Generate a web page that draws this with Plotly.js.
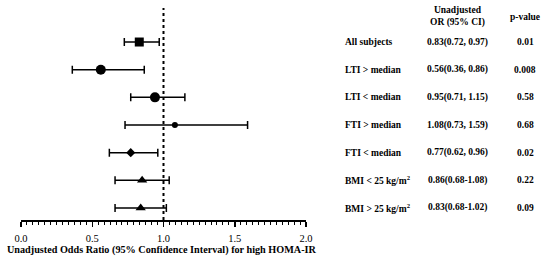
<!DOCTYPE html>
<html><head><meta charset="utf-8">
<script src="https://cdn.plot.ly/plotly-3.0.1.min.js"></script>
<style>html,body{margin:0;padding:0;background:#fff}</style>
</head><body><div id="chart" style="width:550px;height:261px"></div>
<script>
const labels = ["All subjects","LTI > median","LTI < median","FTI > median","FTI < median","BMI < 25 kg/m<sup>2</sup>","BMI > 25 kg/m<sup>2</sup>"];
const orPoint = [0.83,0.56,0.94,1.08,0.77,0.85,0.84];
const ciLow  = [0.725,0.36,0.77,0.73,0.62,0.66,0.66];
const ciHigh = [0.97,0.865,1.15,1.59,0.96,1.04,1.02];
const orText = ["0.83(0.72, 0.97)","0.56(0.36, 0.86)","0.95(0.71, 1.15)","1.08(0.73, 1.59)","0.77(0.62, 0.96)","0.86(0.68-1.08)","0.83(0.68-1.02)"];
const pText = ["0.01","0.008","0.58","0.68","0.02","0.22","0.09"];
const symbols = ["square","circle","circle","circle","diamond","triangle-up","triangle-up"];
const sizes = [9,10,10,6,7,9,9];

const rowY = labels.map((_, i) => labels.length - i);
const F = "Liberation Serif, Times New Roman, serif";

const trace = {
  type: "scatter", mode: "markers",
  x: orPoint, y: rowY,
  marker: {color: "#000", symbol: symbols, size: sizes, opacity: 1, line: {width: 0}},
  error_x: {type: "data", symmetric: false,
    array: orPoint.map((v,i)=>ciHigh[i]-v),
    arrayminus: orPoint.map((v,i)=>v-ciLow[i]),
    color: "#000", thickness: 1.5, width: 4},
  cliponaxis: false, hoverinfo: "none"
};

const L = 21, R = 244;
const px2paper = p => (p - L) / (550 - L - R);
const ann = [];
labels.forEach((t,i)=>{
  ann.push({xref:"paper", yref:"y", x:px2paper(343), y:rowY[i], xanchor:"left", yanchor:"middle", text:"<b>"+t+"</b>", showarrow:false, font:{family:F,size:9.5,color:"#000"}});
  ann.push({xref:"paper", yref:"y", x:px2paper(457), y:rowY[i], xanchor:"center", yanchor:"middle", text:"<b>"+orText[i]+"</b>", showarrow:false, font:{family:F,size:9.5,color:"#000"}});
  ann.push({xref:"paper", yref:"y", x:px2paper(525), y:rowY[i], xanchor:"center", yanchor:"middle", text:"<b>"+pText[i]+"</b>", showarrow:false, font:{family:F,size:9.5,color:"#000"}});
});
ann.push({xref:"paper", yref:"y", x:px2paper(457), y:7.92, xanchor:"center", yanchor:"middle", text:"<b>Unadjusted<br>OR (95% CI)</b>", showarrow:false, font:{family:F,size:9.5,color:"#000"}});
ann.push({xref:"paper", yref:"y", x:px2paper(525), y:7.90, xanchor:"center", yanchor:"middle", text:"<b>p-value</b>", showarrow:false, font:{family:F,size:9.5,color:"#000"}});
ann.push({xref:"paper", yref:"paper", x:px2paper(5), y:-(250-220)/212, xanchor:"left", yanchor:"middle",
  text:"<b>Unadjusted Odds Ratio (95% Confidence Interval) for high HOMA-IR</b>", showarrow:false, font:{family:F,size:10.2,color:"#000"}});

const layout = {
  width: 550, height: 261,
  margin: {l: L, r: R, t: 8, b: 41},
  paper_bgcolor: "#fff", plot_bgcolor: "#fff",
  showlegend: false,
  xaxis: {range: [0, 2], tickvals: [0,0.5,1,1.5,2], ticktext: ["0.0","0.5","1.0","1.5","2.0"],
    showgrid: false, zeroline: false, showline: true, linecolor: "#000", linewidth: 1.5,
    ticks: "outside", ticklen: 5, tickwidth: 1.5, tickcolor: "#000",
    ticklabelstandoff: 3,
    minor: {dtick: 0.5/12, tick0: 0, ticks: "outside", ticklen: 3, tickwidth: 1, tickcolor: "#000", showgrid: false},
    tickfont: {family: F, size: 10.5, color: "#000"},
    fixedrange: true},
  yaxis: {range: [0.566, 8.23], visible: false, fixedrange: true},
  shapes: [{type: "line", xref: "x", yref: "y", x0: 1, x1: 1, y0: 0.566, y1: 8.23,
    line: {color: "#000", width: 2, dash: "dot"}, layer: "below"}],
  annotations: ann
};
Plotly.newPlot("chart", [trace], layout, {displayModeBar: false, staticPlot: true});
</script></body></html>
